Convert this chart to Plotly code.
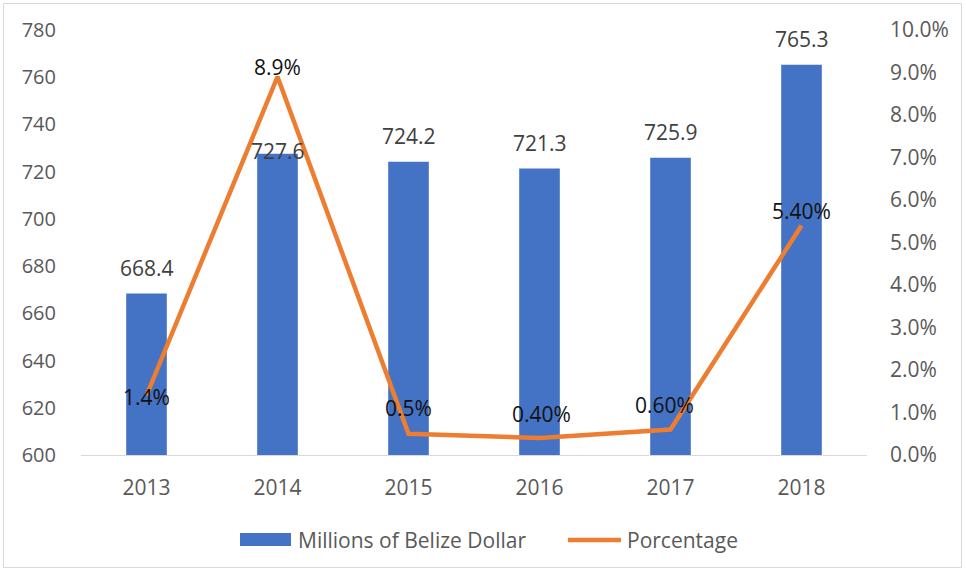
import plotly.graph_objects as go

# Data
years = ["2013", "2014", "2015", "2016", "2017", "2018"]
millions_bzd = [668.4, 727.6, 724.2, 721.3, 725.9, 765.3]
pct_values = [1.4, 8.9, 0.5, 0.4, 0.6, 5.4]
pct_labels = ["1.4%", "8.9%", "0.5%", "0.40%", "0.60%", "5.40%"]
left_ticks = [600, 620, 640, 660, 680, 700, 720, 740, 760, 780]
right_ticks = [0, 1, 2, 3, 4, 5, 6, 7, 8, 9, 10]
right_tick_text = [f"{v:.1f}%" for v in right_ticks]

# Label offsets (pixels) for value labels
bar_label_shift = [10, -13, 10, 10, 10, 10]
line_label_yshift = [-1, 10, 26, 24, 25, 15]
line_label_xshift = [0, 0, 0, 2, -6, 0]

BLUE = "#4472C4"
ORANGE = "#ED7D31"
FONT = "Open Sans"
FS = 21
TICK_COLOR = "#595959"

fig = go.Figure()

fig.add_trace(go.Bar(
    x=years, y=millions_bzd, name="Millions of Belize Dollar",
    marker=dict(color=BLUE, line=dict(width=0)), width=0.31,
    showlegend=False, yaxis="y",
))

fig.add_trace(go.Scatter(
    x=years, y=pct_values, name="Porcentage", mode="lines",
    line=dict(color=ORANGE, width=4.5), showlegend=False, yaxis="y2",
))

annotations = []
# category positions on the x axis are addressed by index
for i, (v, s) in enumerate(zip(millions_bzd, bar_label_shift)):
    annotations.append(dict(
        x=i, y=v, xref="x", yref="y", text=f"{v:.1f}", showarrow=False,
        yanchor="bottom", yshift=s, font=dict(family=FONT, size=FS, color="#404040"),
    ))
for i, (v, lab, ys, xs) in enumerate(zip(pct_values, pct_labels, line_label_yshift, line_label_xshift)):
    annotations.append(dict(
        x=i, y=v, xref="x", yref="y2", text=lab, showarrow=False,
        yanchor="middle", yshift=ys, xshift=xs,
        font=dict(family=FONT, size=FS, color="#111111"),
    ))

# Legend drawn beneath the plot
PW, PH = 786.0, 425.0
L, B = 81.0, 455.0
def px(x):
    return (x - L) / PW
def py(y):
    return (B - y) / PH

annotations.append(dict(
    x=px(296), y=py(540), xref="paper", yref="paper", text="Millions of Belize Dollar",
    showarrow=False, xanchor="left", yanchor="middle",
    font=dict(family=FONT, size=FS, color=TICK_COLOR),
))
annotations.append(dict(
    x=px(625), y=py(540), xref="paper", yref="paper", text="Porcentage",
    showarrow=False, xanchor="left", yanchor="middle",
    font=dict(family=FONT, size=FS, color=TICK_COLOR),
))

shapes = [
    dict(type="rect", xref="paper", yref="paper",
         x0=px(240), x1=px(291), y0=py(546), y1=py(533),
         fillcolor=BLUE, line=dict(width=0)),
    dict(type="line", xref="paper", yref="paper",
         x0=px(568), x1=px(621), y0=py(540), y1=py(540),
         line=dict(color=ORANGE, width=4.5)),
    # chart border
    dict(type="rect", xref="paper", yref="paper",
         x0=px(3.5), x1=px(961.5), y0=py(567.5), y1=py(3.5),
         line=dict(color="#D9D9D9", width=1), fillcolor="rgba(0,0,0,0)", layer="below"),
]

fig.update_layout(
    width=966, height=573,
    margin=dict(l=81, r=99, t=30, b=118),
    paper_bgcolor="white", plot_bgcolor="white",
    font=dict(family=FONT, size=FS, color=TICK_COLOR),
    bargap=0.69,
    showlegend=False,
    xaxis=dict(
        type="category", range=[-0.5, len(years) - 0.5], showgrid=False, showline=True,
        linecolor="#D9D9D9", linewidth=1,
        ticks="", tickfont=dict(family=FONT, size=FS, color=TICK_COLOR),
        ticklabelstandoff=14, zeroline=False,
    ),
    yaxis=dict(
        range=[600, 780], tickvals=left_ticks, showgrid=False, showline=False,
        zeroline=False, ticks="", tickfont=dict(family=FONT, size=20, color=TICK_COLOR),
        ticklabelstandoff=24,
    ),
    yaxis2=dict(
        range=[0, 10], tickvals=right_ticks, ticktext=right_tick_text, overlaying="y",
        side="right", showgrid=False, showline=False, zeroline=False, ticks="",
        tickfont=dict(family=FONT, size=FS, color=TICK_COLOR), ticklabelstandoff=22,
    ),
    annotations=annotations,
    shapes=shapes,
)

fig.write_html("out.html")
